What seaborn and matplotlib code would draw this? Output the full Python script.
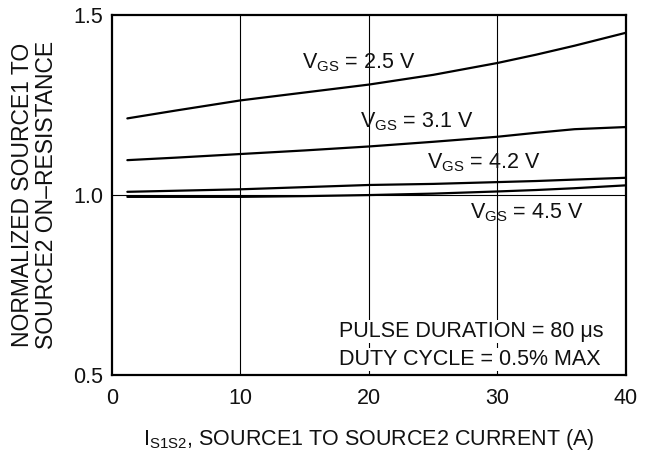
import pandas as pd
import seaborn as sns
import matplotlib.pyplot as plt

# values
current = [1.2, 5, 10, 15, 20, 25, 30, 33, 36, 40]
r_vgs_25 = [1.213, 1.235, 1.263, 1.285, 1.307, 1.334, 1.367, 1.390, 1.415, 1.451]
r_vgs_31 = [1.097, 1.104, 1.114, 1.124, 1.135, 1.148, 1.162, 1.173, 1.183, 1.189]
r_vgs_42 = [1.009, 1.012, 1.016, 1.022, 1.028, 1.031, 1.036, 1.039, 1.043, 1.048]
r_vgs_45 = [0.995, 0.995, 0.995, 0.997, 1.000, 1.004, 1.010, 1.014, 1.019, 1.027]
vgs_names = ["2.5 V", "3.1 V", "4.2 V", "4.5 V"]
x_ticks = [0, 10, 20, 30, 40]
y_ticks = [0.5, 1.0, 1.5]

df = pd.concat([
    pd.DataFrame({"I": current, "R": vals, "VGS": name})
    for name, vals in zip(vgs_names, [r_vgs_25, r_vgs_31, r_vgs_42, r_vgs_45])
])

sns.set_style("white")
plt.rcParams["font.family"] = ["Liberation Sans", "DejaVu Sans"]
plt.rcParams["mathtext.fontset"] = "custom"
plt.rcParams["mathtext.rm"] = "Liberation Sans"
plt.rcParams["mathtext.it"] = "Liberation Sans"

fs = 15.5
txt_color = "#111111"

fig = plt.figure(figsize=(6.47, 4.51), dpi=100)
ax = fig.add_axes([0.173, 0.1685, 0.7945, 0.798])

sns.lineplot(data=df, x="I", y="R", hue="VGS", palette=["black"] * 4,
             linewidth=1.6, legend=False, ax=ax, zorder=3)

ax.set_xlim(0, 40)
ax.set_ylim(0.5, 1.5)
ax.set_xticks(x_ticks)
ax.set_yticks(y_ticks)
ax.set_xticklabels([str(t) for t in x_ticks])
ax.set_yticklabels(["%.1f" % t for t in y_ticks])
ax.tick_params(axis="x", length=0, pad=9, labelsize=fs, colors=txt_color)
ax.tick_params(axis="y", length=0, pad=6, labelsize=fs, colors=txt_color)

for xv in [10, 20, 30]:
    ax.axvline(xv, color="black", linewidth=0.8, zorder=1)
ax.axhline(1.0, color="black", linewidth=0.8, zorder=1)

for sp in ax.spines.values():
    sp.set_linewidth(1.6)
    sp.set_color("black")

lab = dict(fontsize=fs, color=txt_color, va="baseline", ha="left", zorder=4)
ax.text(14.8, 1.353, r"V$_{\mathrm{GS}}$ = 2.5 V", **lab)
ax.text(19.3, 1.189, r"V$_{\mathrm{GS}}$ = 3.1 V", **lab)
ax.text(24.5, 1.075, r"V$_{\mathrm{GS}}$ = 4.2 V", **lab)
ax.text(27.9, 0.936, r"V$_{\mathrm{GS}}$ = 4.5 V", **lab)
ax.text(17.7, 0.606, "PULSE DURATION = 80 \u03bcs", **lab,
        bbox=dict(facecolor="white", edgecolor="none", pad=1))
ax.text(17.7, 0.528, "DUTY CYCLE = 0.5% MAX", **lab,
        bbox=dict(facecolor="white", edgecolor="none", pad=1))

ax.set_xlabel(r"I$_{\mathrm{S1S2}}$, SOURCE1 TO SOURCE2 CURRENT (A)",
              fontsize=fs, color=txt_color, labelpad=13)
ax.set_ylabel("NORMALIZED SOURCE1 TO\nSOURCE2 ON\u2013RESISTANCE",
              fontsize=16.5, color=txt_color, labelpad=11, linespacing=1.05)

fig.savefig("out.png", dpi=100)
